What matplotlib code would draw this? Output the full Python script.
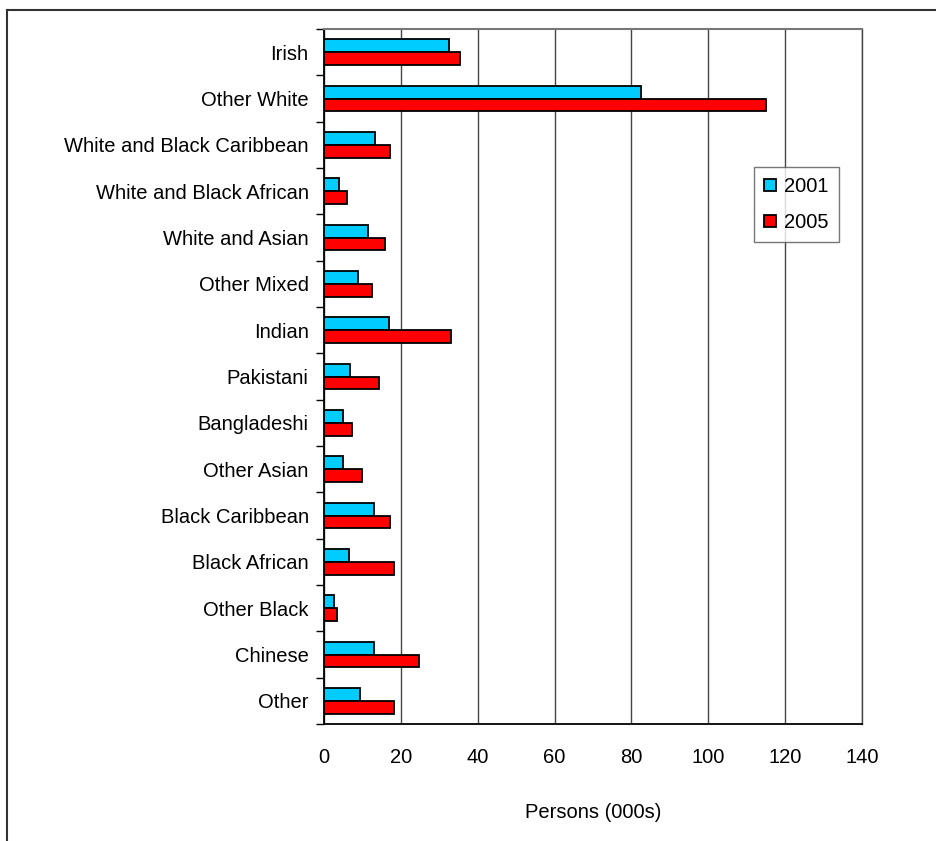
import numpy as np
import matplotlib
matplotlib.use("Agg")
from matplotlib import pyplot as plt
from matplotlib.lines import Line2D

plt.rcParams['font.family'] = ['Liberation Sans', 'DejaVu Sans']

categories = ['Irish', 'Other White', 'White and Black Caribbean',
              'White and Black African', 'White and Asian', 'Other Mixed',
              'Indian', 'Pakistani', 'Bangladeshi', 'Other Asian',
              'Black Caribbean', 'Black African', 'Other Black', 'Chinese',
              'Other']
vals_2001 = [32.5, 82.5, 13.4, 4.0, 11.4, 8.9, 16.8, 6.8, 4.9, 4.9,
             12.9, 6.5, 2.5, 12.9, 9.4]
vals_2005 = [35.5, 115.1, 17.3, 6.0, 15.9, 12.4, 33.1, 14.3, 7.4, 9.9,
             17.3, 18.3, 3.5, 24.6, 18.3]
xticks = [0, 20, 40, 60, 80, 100, 120, 140]

W, H = 936, 841
fig = plt.figure(figsize=(W / 100, H / 100), dpi=100)
ax = fig.add_axes([324 / W, 1 - 724 / H, (862 - 324) / W, (724 - 29) / H])

y = np.arange(len(categories))
h = 0.28
ax.barh(y - h / 2, vals_2001, height=h, color='#00CCFF', edgecolor='black',
        linewidth=1.3, label='2001', zorder=3)
ax.barh(y + h / 2, vals_2005, height=h, color='#FF0000', edgecolor='black',
        linewidth=1.3, label='2005', zorder=3)

ax.set_xlim(0, 140)
ax.set_ylim(len(categories) - 0.5, -0.5)
ax.set_xticks(xticks)
ax.set_xticklabels([str(t) for t in xticks], fontsize=14.5)
ax.tick_params(axis='x', length=0, pad=17)
ax.set_yticks(y)
ax.set_yticklabels(categories, fontsize=14.5)
ax.set_yticks(np.arange(len(categories) + 1) - 0.5, minor=True)
ax.tick_params(axis='y', which='major', length=0, pad=11)
ax.tick_params(axis='y', which='minor', length=6, width=1, direction='out')

ax.grid(axis='x', color='#444444', linewidth=1, zorder=0)
for s in ['left', 'bottom']:
    ax.spines[s].set_color('black')
    ax.spines[s].set_linewidth(1.3)
ax.spines['top'].set_color('#777777')
ax.spines['top'].set_linewidth(1.5)
ax.spines['right'].set_color('#444444')
ax.spines['right'].set_linewidth(1)

ax.set_xlabel('Persons (000s)', fontsize=14.5, labelpad=26)

leg = ax.legend(loc='upper left', bbox_to_anchor=((754 - 324) / (862 - 324), 1 - (167 - 29) / (724 - 29)),
                fontsize=14.5, frameon=True, fancybox=False, handlelength=0.6,
                handleheight=0.6, handletextpad=0.4, labelspacing=0.85,
                borderpad=0.5, borderaxespad=0)
leg.get_frame().set_edgecolor('#555555')
leg.get_frame().set_linewidth(1)

# outer frame of the original picture
fig.add_artist(Line2D([7 / W, 7 / W], [-0.1, 1 - 10 / H], color='#333333', linewidth=1.5))
fig.add_artist(Line2D([7 / W, 1.1], [1 - 10 / H, 1 - 10 / H], color='#333333', linewidth=1.5))

fig.savefig('out.png', dpi=100)
